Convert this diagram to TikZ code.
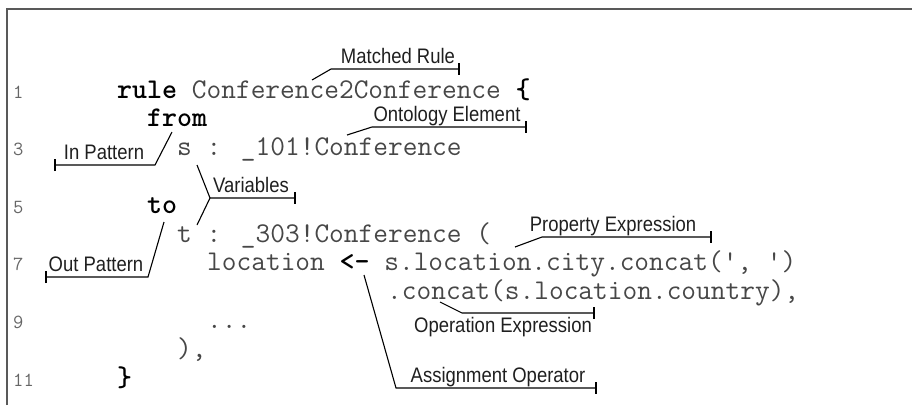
\documentclass[tikz,border=0pt]{standalone}
\usepackage{fontspec}
\usetikzlibrary{arrows.meta}
\newfontfamily\labelfont[FakeStretch=0.88]{Liberation Sans}
\newcommand{\kw}[1]{{\bfseries\color{black}#1}}
\newcommand{\codeline}[4]{%
  % name, line number, column, text.
  \node[code] (#1) at ({117+#3*15},{98+(#2-1)*28.8}) {#4};
}
\newcommand{\tagline}[8]{%
  % name, label, label anchor, label x/y, code point, knee x, tick x, line y.
  \node[lbl,anchor=#3] (#1) at (#4) {#2};
  \coordinate (#1-pt) at (#5);
  \coordinate (#1-knee) at (#6,#8);
  \coordinate (#1-tick) at (#7,#8);
  \draw[leader] (#1-pt) -- (#1-knee) -- (#1-tick);
}
\tikzset{
  code/.style={anchor=base west,inner sep=0pt,text=black!72,
    font=\ttfamily\fontsize{28.57}{28.57}\selectfont},
  lnum/.style={anchor=base west,inner sep=0pt,text=black!60,
    font=\ttfamily\fontsize{20}{20}\selectfont},
  lbl/.style={inner xsep=5pt,inner ysep=1pt,text height=15pt,text depth=4pt,
    text=black!88,font=\labelfont\fontsize{21}{21}\selectfont},
  leader/.style={line width=1.1pt,-{Bar[width=12pt,line width=2.2pt]}},
}
\begin{document}
\begin{tikzpicture}[x=1pt,y=-1pt]
  \useasboundingbox (0,0) rectangle (912,405);
  \draw[line width=2pt,black!65] (7,405) -- (7,8.5) -- (912,8.5);
  % line numbers
  \foreach \n in {1,3,5,7,9,11}{\node[lnum] (n\n) at (13,{98+(\n-1)*28.8}) {\n};}
  % code
  \codeline{l1}{1}{0}{\kw{rule} Conference2Conference \kw{\{}}
  \codeline{l2}{2}{2}{\kw{from}}
  \codeline{l3}{3}{4}{s : \_101!Conference}
  \codeline{l5}{5}{2}{\kw{to}}
  \codeline{l6}{6}{4}{t : \_303!Conference (}
  \codeline{l7}{7}{6}{location \kw{<-} s.location.city.concat(', ')}
  \codeline{l8}{8}{18}{.concat(s.location.country),}
  \codeline{l9}{9}{6}{...}
  \codeline{l10}{10}{4}{),}
  \codeline{l11}{11}{0}{\kw{\}}}
  % callouts
  \tagline{mr}{Matched Rule}{south}{398,69}{312,80}{331}{460}{69}
  \tagline{oe}{Ontology Element}{south}{447,127}{347,135}{372}{527}{127}
  \tagline{ip}{In Pattern}{south}{104,165}{172,132}{155}{54}{165}
  \tagline{va}{Variables}{south}{251,198}{197,165}{210}{296}{198}
  \coordinate (va-pt2) at (197,225);
  \draw[line width=1.1pt] (va-pt2) -- (va-knee);
  \tagline{op}{Out Pattern}{south}{96,277}{164,222}{148}{45}{277}
  \tagline{pe}{Property Expression}{south}{613,237}{515,247}{542}{712}{237}
  \tagline{ox}{Operation Expression}{north}{503,316}{440,302}{462}{595}{313}
  \tagline{ao}{Assignment Operator}{south}{498,388}{364,275}{396}{597}{388}
\end{tikzpicture}
\end{document}
